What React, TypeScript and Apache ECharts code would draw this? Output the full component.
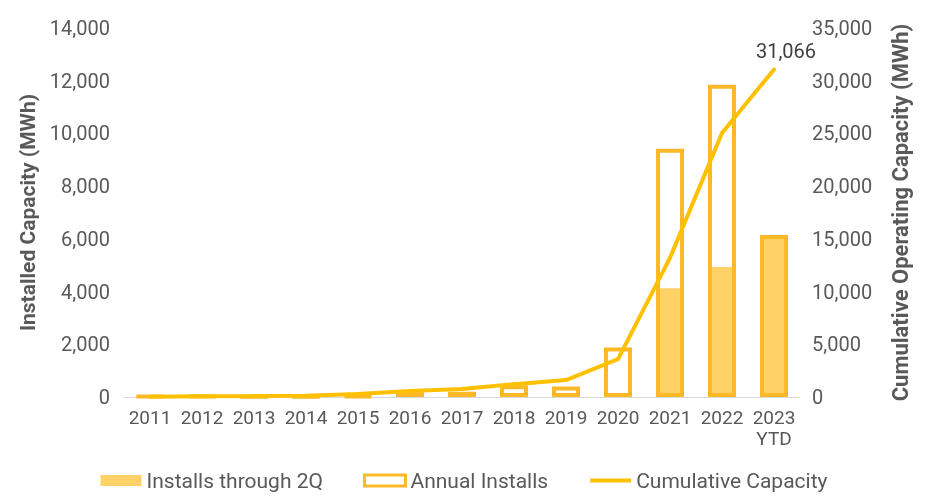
import React, { useEffect, useRef } from "react";
import * as echarts from "echarts";

const years = ["2011", "2012", "2013", "2014", "2015", "2016", "2017", "2018", "2019", "2020", "2021", "2022", "2023\nYTD"];
const installsThrough2Q = [10, 20, 5, 5, 10, 60, 80, 150, 120, 60, 4130, 4930, 6150];
const annualInstalls = [30, 40, 10, 20, 40, 180, 200, 450, 400, 1880, 9420, 11850, 6150];
const cumulativeCapacity = [30, 70, 90, 120, 280, 560, 760, 1220, 1610, 3600, 13200, 25050, 31066];
const leftTicks = [0, 2000, 4000, 6000, 8000, 10000, 12000, 14000];
const rightTicks = [0, 5000, 10000, 15000, 20000, 25000, 30000, 35000];

const FONT = "Roboto, 'Liberation Sans', sans-serif";
const GRAY = "#595959";
const FILL = "#FFD166";
const OUTLINE = "#FDB827";
const LINE = "#FFC000";

export default function App() {
  const ref = useRef<HTMLDivElement>(null);
  useEffect(() => {
    const chart = echarts.init(ref.current!, undefined, { renderer: "svg" });
    const fmt = (v: number) => v.toLocaleString("en-US");
    chart.setOption({
      animation: false,
      textStyle: { fontFamily: FONT },
      grid: { left: 124, right: 128, top: 28, bottom: 101 },
      legend: {
        bottom: 2,
        left: "center",
        itemWidth: 41,
        itemHeight: 11,
        itemGap: 40,
        textStyle: { color: GRAY, fontSize: 21, fontFamily: FONT },
        data: [
          { name: "Installs through 2Q", icon: "rect", itemStyle: { color: FILL, borderWidth: 0 } },
          { name: "Annual Installs", icon: "rect", itemStyle: { color: "#ffffff", borderColor: OUTLINE, borderWidth: 3 } },
          { name: "Cumulative Capacity", itemStyle: { opacity: 0 }, lineStyle: { width: 4, color: LINE } },
        ],
      },
      xAxis: {
        type: "category",
        data: years,
        axisLine: { lineStyle: { color: "#D9D9D9", width: 1 } },
        axisTick: { show: false },
        axisLabel: { color: GRAY, fontSize: 19, fontFamily: FONT, interval: 0, lineHeight: 21, margin: 10 },
      },
      yAxis: [
        {
          type: "value",
          min: leftTicks[0],
          max: leftTicks[leftTicks.length - 1],
          interval: leftTicks[1] - leftTicks[0],
          name: "Installed Capacity (MWh)",
          nameLocation: "middle",
          nameGap: 83,
          nameTextStyle: { color: GRAY, fontSize: 21, fontWeight: "bold", fontFamily: FONT },
          splitLine: { show: false },
          axisLine: { show: false },
          axisTick: { show: false },
          axisLabel: { color: GRAY, fontSize: 20, fontFamily: FONT, margin: 14, formatter: fmt },
        },
        {
          type: "value",
          min: rightTicks[0],
          max: rightTicks[rightTicks.length - 1],
          interval: rightTicks[1] - rightTicks[0],
          name: "Cumulative Operating Capacity (MWh)",
          nameLocation: "middle",
          nameGap: 89,
          nameTextStyle: { color: GRAY, fontSize: 22, fontWeight: "bold", fontFamily: FONT },
          splitLine: { show: false },
          axisLine: { show: false },
          axisTick: { show: false },
          axisLabel: { color: GRAY, fontSize: 20, fontFamily: FONT, margin: 12, formatter: fmt },
        },
      ],
      series: [
        {
          name: "Installs through 2Q",
          type: "bar",
          data: installsThrough2Q,
          barWidth: 28,
          itemStyle: { color: FILL },
          z: 2,
        },
        {
          name: "Annual Installs",
          type: "bar",
          data: annualInstalls,
          barWidth: 28,
          barGap: "-100%",
          itemStyle: { color: "rgba(0,0,0,0)", borderColor: OUTLINE, borderWidth: 4 },
          z: 3,
        },
        {
          name: "Cumulative Capacity",
          type: "line",
          yAxisIndex: 1,
          data: cumulativeCapacity.map((v, i) =>
            i === cumulativeCapacity.length - 1
              ? {
                  value: v,
                  label: {
                    show: true,
                    position: "top",
                    distance: 6,
                    offset: [12, 0],
                    formatter: fmt(v),
                    color: "#404040",
                    fontSize: 20,
                    fontFamily: FONT,
                  },
                }
              : v
          ),
          symbol: "circle",
          symbolSize: 4,
          showSymbol: true,
          showAllSymbol: true,
          lineStyle: { color: LINE, width: 4 },
          itemStyle: { color: LINE },
          z: 4,
        },
      ],
    });
    return () => chart.dispose();
  }, []);
  return <div ref={ref} style={{ position: "fixed", left: 0, top: 0, width: 928, height: 498 }} />;
}
